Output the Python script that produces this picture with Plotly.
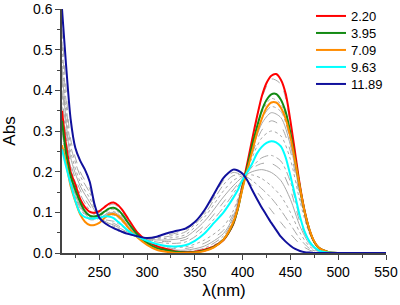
import plotly.graph_objects as go

# Wavelength grid (nm) for the highlighted spectra
wl = [211, 215, 220, 225, 230, 235, 240, 245, 250, 255, 260, 265, 270, 275, 280, 290, 300,
      310, 320, 330, 340, 350, 360, 370, 380, 390, 395, 400, 405, 410, 415, 420, 425, 430,
      435, 440, 445, 450, 455, 460, 465, 470, 475, 480, 490, 500, 550]

ph_labels = ["2.20", "3.95", "7.09", "9.63", "11.89"]

abs_220 = [0.35, 0.27, 0.20, 0.168, 0.133, 0.113, 0.101, 0.099, 0.103, 0.112, 0.121, 0.124, 0.117,
           0.103, 0.085, 0.050, 0.030, 0.017, 0.010, 0.004, 0.002, 0.003, 0.008, 0.016, 0.032,
           0.070, 0.110, 0.168, 0.222, 0.280, 0.335, 0.385, 0.418, 0.436, 0.440, 0.426, 0.392,
           0.325, 0.245, 0.165, 0.102, 0.056, 0.027, 0.012, 0.002, 0.0, 0.0]
abs_395 = [0.325, 0.25, 0.19, 0.155, 0.125, 0.103, 0.092, 0.090, 0.093, 0.101, 0.109, 0.111, 0.105,
           0.092, 0.075, 0.045, 0.025, 0.012, 0.007, 0.003, 0.001, 0.002, 0.006, 0.015, 0.033,
           0.072, 0.108, 0.163, 0.213, 0.265, 0.310, 0.350, 0.376, 0.390, 0.391, 0.377, 0.347,
           0.295, 0.228, 0.160, 0.100, 0.056, 0.027, 0.012, 0.002, 0.0, 0.0]
abs_709 = [0.265, 0.225, 0.165, 0.127, 0.095, 0.077, 0.069, 0.069, 0.074, 0.085, 0.094, 0.096, 0.090,
           0.078, 0.063, 0.038, 0.020, 0.008, 0.003, 0.0, 0.0, 0.001, 0.005, 0.014, 0.033,
           0.075, 0.110, 0.160, 0.205, 0.250, 0.295, 0.330, 0.357, 0.370, 0.370, 0.357, 0.330,
           0.285, 0.225, 0.160, 0.100, 0.057, 0.028, 0.012, 0.002, 0.0, 0.0]
abs_963 = [0.255, 0.215, 0.17, 0.128, 0.098, 0.088, 0.085, 0.085, 0.087, 0.090, 0.090, 0.086, 0.076,
           0.066, 0.055, 0.040, 0.030, 0.022, 0.017, 0.016, 0.019, 0.030, 0.048, 0.074, 0.100,
           0.135, 0.155, 0.180, 0.200, 0.220, 0.245, 0.261, 0.271, 0.275, 0.272, 0.262, 0.235,
           0.190, 0.140, 0.090, 0.052, 0.028, 0.014, 0.006, 0.001, 0.0, 0.0]
abs_1189 = [0.60, 0.47, 0.33, 0.258, 0.227, 0.205, 0.175, 0.12, 0.087, 0.075, 0.067, 0.061, 0.056,
            0.051, 0.047, 0.041, 0.037, 0.040, 0.048, 0.054, 0.060, 0.076, 0.105, 0.145, 0.185,
            0.205, 0.203, 0.195, 0.178, 0.155, 0.133, 0.112, 0.093, 0.074, 0.057, 0.040, 0.028,
            0.018, 0.010, 0.005, 0.002, 0.001, 0.0, 0.0, 0.0, 0.0, 0.0]

# Intermediate (grey) spectra on a coarser grid
wl_grey = [211, 215, 220, 230, 240, 250, 260, 265, 270, 280, 290, 300, 320, 340, 360, 380, 390,
           400, 410, 420, 430, 440, 450, 460, 470, 480, 490, 500, 550]
grey_1 = [0.34, 0.26, 0.195, 0.13, 0.098, 0.10, 0.117, 0.12, 0.113, 0.082, 0.048, 0.028, 0.009, 0.002,
          0.007, 0.034, 0.075, 0.165, 0.275, 0.38, 0.428, 0.415, 0.318, 0.168, 0.057, 0.012, 0.002, 0, 0]
grey_2 = [0.31, 0.24, 0.18, 0.115, 0.088, 0.09, 0.105, 0.107, 0.10, 0.072, 0.043, 0.024, 0.007, 0.002,
          0.008, 0.036, 0.078, 0.163, 0.262, 0.345, 0.38, 0.366, 0.29, 0.158, 0.055, 0.012, 0.002, 0, 0]
grey_3 = [0.30, 0.235, 0.175, 0.11, 0.082, 0.085, 0.10, 0.102, 0.096, 0.07, 0.042, 0.024, 0.008, 0.004,
          0.012, 0.042, 0.083, 0.163, 0.255, 0.33, 0.36, 0.348, 0.277, 0.152, 0.054, 0.012, 0.002, 0, 0]
grey_4 = [0.32, 0.25, 0.185, 0.115, 0.085, 0.086, 0.098, 0.10, 0.094, 0.068, 0.041, 0.025, 0.01, 0.007,
          0.017, 0.048, 0.088, 0.165, 0.25, 0.318, 0.345, 0.333, 0.265, 0.146, 0.052, 0.011, 0.002, 0, 0]
grey_5 = [0.34, 0.26, 0.19, 0.12, 0.088, 0.086, 0.096, 0.097, 0.09, 0.065, 0.04, 0.026, 0.013, 0.011,
          0.024, 0.056, 0.095, 0.167, 0.243, 0.302, 0.325, 0.312, 0.25, 0.138, 0.05, 0.011, 0.002, 0, 0]
grey_6 = [0.36, 0.27, 0.195, 0.125, 0.09, 0.085, 0.092, 0.093, 0.086, 0.062, 0.04, 0.028, 0.016, 0.015,
          0.032, 0.066, 0.103, 0.17, 0.235, 0.283, 0.30, 0.288, 0.23, 0.127, 0.047, 0.01, 0.002, 0, 0]
grey_7 = [0.40, 0.29, 0.21, 0.145, 0.105, 0.085, 0.08, 0.078, 0.072, 0.055, 0.04, 0.032, 0.024, 0.027,
          0.058, 0.112, 0.145, 0.182, 0.212, 0.234, 0.24, 0.226, 0.175, 0.085, 0.028, 0.006, 0.001, 0, 0]
grey_8 = [0.43, 0.31, 0.22, 0.155, 0.115, 0.086, 0.076, 0.073, 0.067, 0.053, 0.04, 0.033, 0.028, 0.033,
          0.068, 0.125, 0.155, 0.185, 0.208, 0.22, 0.22, 0.204, 0.155, 0.076, 0.025, 0.005, 0.001, 0, 0]
grey_9 = [0.46, 0.33, 0.235, 0.165, 0.125, 0.088, 0.073, 0.069, 0.063, 0.051, 0.04, 0.034, 0.032, 0.039,
          0.078, 0.138, 0.165, 0.187, 0.20, 0.205, 0.198, 0.178, 0.132, 0.066, 0.022, 0.004, 0.001, 0, 0]
grey_10 = [0.49, 0.35, 0.25, 0.175, 0.135, 0.088, 0.07, 0.066, 0.06, 0.049, 0.04, 0.035, 0.036, 0.045,
           0.088, 0.153, 0.178, 0.19, 0.192, 0.183, 0.165, 0.14, 0.10, 0.05, 0.016, 0.003, 0, 0, 0]
grey_11 = [0.52, 0.38, 0.265, 0.19, 0.148, 0.087, 0.068, 0.063, 0.057, 0.047, 0.04, 0.036, 0.04, 0.052,
           0.095, 0.168, 0.19, 0.192, 0.178, 0.158, 0.135, 0.105, 0.07, 0.035, 0.011, 0.002, 0, 0, 0]
grey_12 = [0.55, 0.41, 0.28, 0.2, 0.158, 0.086, 0.067, 0.061, 0.055, 0.046, 0.04, 0.036, 0.044, 0.056,
           0.10, 0.178, 0.198, 0.19, 0.165, 0.135, 0.105, 0.075, 0.047, 0.022, 0.007, 0.001, 0, 0, 0]

greys = [grey_1, grey_2, grey_3, grey_4, grey_5, grey_6, grey_7, grey_8, grey_9, grey_10, grey_11, grey_12]
grey_dashes = ["dash", "dot", "dashdot", "solid", "dash", "dot", "dashdot", "dash", "solid", "dot", "dashdot", "dash"]

colored = [abs_220, abs_395, abs_709, abs_963, abs_1189]
colors = ["#ff0000", "#138a13", "#ff8c00", "#00ffff", "#10109c"]

fig = go.Figure()
for g, d in zip(greys, grey_dashes):
    fig.add_trace(go.Scatter(x=wl_grey, y=g, mode="lines", showlegend=False, hoverinfo="skip",
                             line=dict(color="#a8a8a8", width=1, dash=d, shape="spline", smoothing=0.8)))

# one single-entry legend per highlighted spectrum, stacked in the top-right corner
legend_names = ["legend", "legend2", "legend3", "legend4", "legend5"]
legend_y = [0.9713, 0.9016, 0.832, 0.7623, 0.6926]
for lab, ys, c, lg in zip(ph_labels, colored, colors, legend_names):
    fig.add_trace(go.Scatter(x=wl, y=ys, mode="lines", name=lab, legend=lg,
                             line=dict(color=c, width=2, shape="spline", smoothing=0.7)))

layout_legends = {}
for lg, ly in zip(legend_names, legend_y):
    layout_legends[lg] = dict(x=0.7685, y=ly, xanchor="left", yanchor="middle",
                              bgcolor="rgba(0,0,0,0)", font=dict(size=13), itemwidth=30)

fig.update_layout(
    width=400, height=305,
    margin=dict(l=62, r=14, t=9, b=52, autoexpand=False),
    paper_bgcolor="white", plot_bgcolor="white",
    font=dict(family="Liberation Sans, Arial, sans-serif", size=14, color="black"),
    xaxis=dict(range=[211, 550], showline=True, linecolor="#444", linewidth=1.5, automargin=False,
               ticks="outside", ticklen=5, tickcolor="#444", tickwidth=1, dtick=50, tick0=0,
               minor=dict(ticks="outside", ticklen=3, dtick=25, tickcolor="#444"),
               showgrid=False, zeroline=False, title=dict(text="λ(nm)", standoff=6)),
    yaxis=dict(range=[0, 0.6], showline=True, linecolor="#444", linewidth=1.5, automargin=False,
               ticks="outside", ticklen=5, tickcolor="#444", tickwidth=1, dtick=0.1,
               tickformat=".1f",
               minor=dict(ticks="outside", ticklen=3, dtick=0.05, tickcolor="#444"),
               showgrid=False, zeroline=False, title=dict(text="Abs", standoff=20)),
    **layout_legends,
)

fig.write_html("out.html", config={"displayModeBar": False},
               post_script="document.body.style.margin='0';document.body.style.overflow='hidden';")
